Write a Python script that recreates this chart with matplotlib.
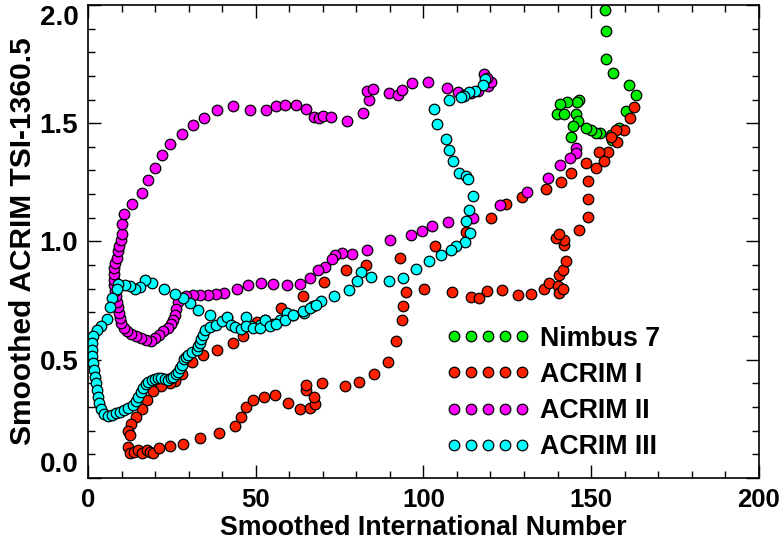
import numpy as np
import matplotlib
matplotlib.use("Agg")
import matplotlib.pyplot as plt

# ---------------------------------------------------------------------
# Data (smoothed sunspot number vs smoothed TSI-1360.5)
# ---------------------------------------------------------------------

nimbus_sn = [154.1, 154.4, 154.6, 156.6, 161.2, 163.4, 160.5, 158.3, 156.3, 155.9,
             152.7, 151.4, 149.9, 148.4, 146.4, 145.9, 142.9, 140.7, 139.7, 142.0,
             145.6, 146.1, 144.6, 144.1]
nimbus_tsi = [1.98, 1.89, 1.77, 1.71, 1.66, 1.62, 1.55, 1.48, 1.43, 1.45,
              1.46, 1.46, 1.47, 1.48, 1.60, 1.59, 1.59, 1.58, 1.54, 1.54,
              1.54, 1.51, 1.49, 1.44]

acrim1_sn = [162.8, 161.6, 159.9, 157.4, 157.6, 155.9, 155.1, 152.4, 153.9, 151.6,
             148.6, 144.0, 141.0, 136.7, 129.4, 124.6, 120.2, 112.7, 103.4, 92.9,
             83.0, 77.0, 70.5, 64.0, 57.6, 50.5, 46.2, 43.1, 38.6, 34.3,
             30.9, 28.1, 25.9, 24.4, 21.9, 19.4, 17.5, 16.0, 14.3, 12.8,
             11.8, 12.5, 12.0,
             12.5, 13.7, 15.0, 16.1, 17.5, 18.5, 19.4, 21.1, 24.4, 28.4,
             33.4, 39.0, 43.8, 45.7, 47.0, 49.3, 52.4, 55.7, 59.6, 63.3,
             66.1, 67.6, 67.3, 65.1, 64.9, 69.9, 76.5, 80.7, 85.2, 89.5,
             91.9, 93.7, 93.8, 94.9, 100.2, 108.5, 114.3, 116.5, 119.0, 123.4,
             128.3, 132.2, 136.0, 137.5, 140.0, 140.5, 141.5, 140.5, 141.7, 142.5,
             142.0, 141.8, 139.5, 140.3, 146.5, 149.0, 149.0, 149.2]
acrim1_tsi = [1.57, 1.52, 1.47, 1.47, 1.42, 1.44, 1.38, 1.38, 1.34, 1.31,
              1.33, 1.29, 1.25, 1.22, 1.19, 1.16, 1.10, 1.04, 0.98, 0.93,
              0.90, 0.88, 0.83, 0.77, 0.72, 0.66, 0.60, 0.57, 0.54, 0.52,
              0.49, 0.44, 0.41, 0.40, 0.39, 0.37, 0.33, 0.29, 0.26, 0.23,
              0.20, 0.18, 0.13,
              0.105, 0.110, 0.119, 0.106, 0.119, 0.110, 0.105, 0.126, 0.136, 0.144,
              0.168, 0.192, 0.222, 0.257, 0.302, 0.331, 0.344, 0.349, 0.317, 0.291,
              0.295, 0.312, 0.342, 0.373, 0.394, 0.400, 0.390, 0.408, 0.441, 0.489,
              0.581, 0.669, 0.729, 0.785, 0.800, 0.785, 0.766, 0.761, 0.789, 0.794,
              0.774, 0.780, 0.800, 0.825, 0.811, 0.783, 0.800, 0.860, 0.881, 0.917,
              0.987, 1.008, 1.016, 1.030, 1.048, 1.102, 1.181, 1.256]

acrim2_sn = [145.4, 145.4, 143.8, 140.7, 137.1, 130.8, 122.9, 114.7, 107.4, 102.5,
             99.5, 96.3, 89.9, 83.3, 78.8, 75.8, 73.6, 72.8, 70.8, 68.7,
             66.1, 63.1, 59.3, 55.1, 51.7, 47.7, 44.3, 40.6, 38.3, 35.8,
             33.3, 31.3, 29.2, 27.7, 26.8, 26.2, 25.9, 25.4, 24.7, 23.7,
             22.5, 21.3, 19.9, 18.7, 17.3, 15.8, 14.3, 12.9, 11.6, 10.6,
             9.8, 9.5, 9.2, 8.9, 8.6, 8.3, 8.0, 7.8, 7.6, 7.6,
             7.7, 8.0, 8.5, 8.9, 9.3, 9.7, 10.0, 10.2, 10.7, 13.2,
             16.1, 17.9, 20.0, 22.1, 24.5, 27.9, 31.3, 34.5, 38.5, 43.2,
             48.4, 53.0, 56.0, 58.8, 61.9, 64.9, 67.3, 68.8, 70.0, 72.5,
             77.2, 81.9, 83.9, 83.1, 84.9, 89.7, 92.4, 93.7, 96.6, 101.5,
             106.9, 110.2, 112.2, 114.3, 116.2, 119.3, 120.2, 118.2, 118.9]
acrim2_tsi = [1.397, 1.376, 1.352, 1.323, 1.267, 1.209, 1.154, 1.100, 1.082, 1.067,
              1.044, 1.029, 1.005, 0.965, 0.945, 0.952, 0.944, 0.924, 0.893, 0.878,
              0.847, 0.822, 0.815, 0.822, 0.825, 0.818, 0.800, 0.783, 0.778, 0.775,
              0.775, 0.773, 0.771, 0.763, 0.742, 0.716, 0.691, 0.669, 0.650, 0.636,
              0.621, 0.606, 0.591, 0.581, 0.585, 0.593, 0.602, 0.610, 0.621, 0.636,
              0.657, 0.678, 0.699, 0.722, 0.746, 0.769, 0.792, 0.816, 0.839, 0.862,
              0.886, 0.909, 0.932, 0.958, 0.981, 1.006, 1.032, 1.072, 1.114, 1.160,
              1.206, 1.261, 1.311, 1.366, 1.412, 1.453, 1.492, 1.520, 1.555, 1.571,
              1.555, 1.555, 1.571, 1.575, 1.575, 1.558, 1.528, 1.521, 1.531, 1.524,
              1.510, 1.545, 1.597, 1.637, 1.644, 1.626, 1.617, 1.639, 1.669, 1.675,
              1.647, 1.630, 1.621, 1.627, 1.637, 1.656, 1.675, 1.708, 1.691]

acrim3_sn = [118.5, 117.9, 115.5, 113.7, 112.2, 111.2, 107.7, 103.3, 104.0, 106.8,
             107.7, 108.9, 110.7, 112.7, 113.2, 114.7, 113.7, 112.6, 113.9, 112.5,
             109.7, 108.2, 105.4, 101.8, 97.8, 93.8, 89.7, 84.4, 81.5, 80.3,
             77.7, 73.3, 69.6, 67.1, 64.4, 61.1, 59.4, 57.1, 55.1, 52.7,
             51.2, 48.7, 47.0, 41.3, 36.3, 32.8, 30.4, 28.4, 25.9, 22.6,
             19.0, 17.0, 15.5, 14.0, 12.5, 11.0, 9.0, 8.5, 7.1, 6.5,
             5.7, 3.9, 2.6, 1.6, 1.2, 1.1, 1.3, 1.6, 1.8, 2.1,
             2.4, 2.7, 3.0, 3.4, 4.0, 4.8, 6.0, 7.1, 8.3, 9.5,
             10.7, 12.0, 13.5, 14.3, 15.0, 15.8, 16.5, 17.3, 17.9, 19.0,
             19.9, 21.0, 21.9, 22.9, 23.9, 24.7, 25.4, 26.2, 26.9, 27.5,
             28.1, 28.5, 29.2, 29.9, 31.0, 32.4, 32.9, 33.3, 33.8, 34.3,
             34.8, 36.3, 38.3, 39.8, 41.3, 42.6, 43.8, 45.7, 47.2, 49.2,
             51.2, 52.7, 54.2, 56.2, 58.6, 61.1, 64.1, 66.1, 67.9]
acrim3_tsi = [1.686, 1.661, 1.637, 1.630, 1.616, 1.609, 1.597, 1.562, 1.496, 1.432,
              1.386, 1.338, 1.291, 1.277, 1.263, 1.191, 1.133, 1.085, 1.037, 0.999,
              0.982, 0.962, 0.942, 0.919, 0.883, 0.845, 0.831, 0.849, 0.870, 0.832,
              0.794, 0.768, 0.747, 0.726, 0.698, 0.688, 0.698, 0.669, 0.653, 0.667,
              0.648, 0.641, 0.681, 0.677, 0.688, 0.709, 0.740, 0.761, 0.780, 0.801,
              0.825, 0.835, 0.808, 0.800, 0.811, 0.818, 0.822, 0.800, 0.761, 0.723,
              0.672, 0.641, 0.627, 0.599, 0.572, 0.542, 0.514, 0.487, 0.458, 0.429,
              0.403, 0.373, 0.344, 0.318, 0.292, 0.271, 0.263, 0.267, 0.273, 0.280,
              0.288, 0.295, 0.309, 0.326, 0.344, 0.364, 0.380, 0.396, 0.408, 0.415,
              0.418, 0.421, 0.422, 0.419, 0.415, 0.422, 0.429, 0.441, 0.450, 0.466,
              0.479, 0.503, 0.513, 0.521, 0.531, 0.542, 0.557, 0.571, 0.589, 0.606,
              0.627, 0.639, 0.648, 0.662, 0.681, 0.648, 0.639, 0.630, 0.641, 0.634,
              0.634, 0.667, 0.641, 0.653, 0.669, 0.691, 0.705, 0.720, 0.733]

series_labels = ["Nimbus 7", "ACRIM I", "ACRIM II", "ACRIM III"]
series_colors = ["#00ee00", "#ff2000", "#ff00ff", "#00ffff"]

x_ticks = [0, 50, 100, 150, 200]
y_ticks = [0.0, 0.5, 1.0, 1.5, 2.0]

# ---------------------------------------------------------------------
# Plot
# ---------------------------------------------------------------------

plt.rcParams["font.family"] = ["Liberation Sans", "DejaVu Sans"]
plt.rcParams["font.weight"] = "bold"

fig = plt.figure(figsize=(7.79, 5.42), dpi=100)
ax = fig.add_axes([0.113, 0.118, 0.861, 0.873])

all_series = [(nimbus_sn, nimbus_tsi), (acrim1_sn, acrim1_tsi),
              (acrim2_sn, acrim2_tsi), (acrim3_sn, acrim3_tsi)]
for (sn, tsi), lab, col in zip(all_series, series_labels, series_colors):
    ax.plot(sn, tsi, linestyle="none", marker="o", markersize=7.6,
            markerfacecolor=col, markeredgecolor="black", markeredgewidth=0.9,
            label=lab)

ax.set_xlim(0, 200)
ax.set_ylim(0, 2.0)
ax.set_xticks(x_ticks)
ax.set_xticklabels([str(t) for t in x_ticks])
ax.set_yticks(y_ticks)
ax.set_yticklabels([f"{t:.1f}" for t in y_ticks])
ax.set_xticks(np.arange(0, 201, 10), minor=True)
ax.set_yticks(np.arange(0, 2.01, 0.1), minor=True)

ax.tick_params(which="both", direction="in", top=True, right=True, width=1.0)
ax.tick_params(which="major", length=9.5, pad=7)
ax.tick_params(axis="x", which="major", labelsize=18.5)
ax.tick_params(axis="y", which="major", labelsize=20)
ax.tick_params(which="minor", length=5)
for sp in ax.spines.values():
    sp.set_linewidth(1.2)

# IDL keeps the end labels of the y axis inside the frame
ylabels = ax.get_yticklabels()
ylabels[0].set_va("bottom")
ylabels[-1].set_va("top")

ax.set_xlabel("Smoothed International Number", fontsize=19.3, fontweight="bold", labelpad=2)
ax.set_ylabel("Smoothed ACRIM TSI-1360.5", fontsize=21.5, fontweight="bold", labelpad=2)

leg = ax.legend(loc="upper left", bbox_to_anchor=(0.5335, 0.322), frameon=False,
                numpoints=5, handlelength=3.14, handletextpad=0.37,
                labelspacing=0.38, borderpad=0, borderaxespad=0,
                prop={"size": 19.3, "weight": "bold"})

fig.savefig("out.png", dpi=100)
